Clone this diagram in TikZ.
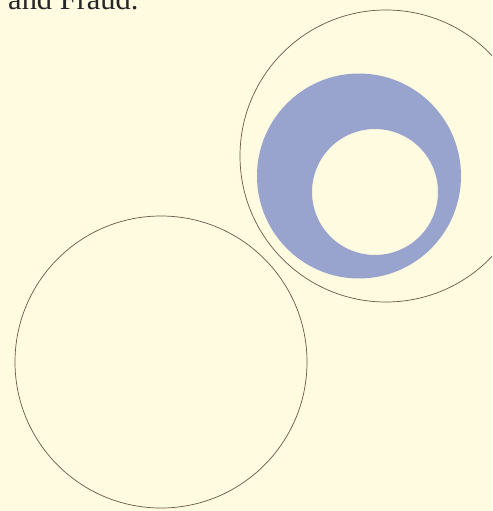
\documentclass[tikz,border=0pt]{standalone}
\usepackage{fontspec}
\setmainfont{Liberation Serif}
\usepackage{tikz}
\definecolor{paper}{RGB}{255,251,224}
\definecolor{inkbrown}{RGB}{105,88,76}
\definecolor{ringblue}{RGB}{153,164,206}

\begin{document}
\begin{tikzpicture}[
  x=0.03cm, y=-0.03cm,
  ring/.style={draw=inkbrown, line width=0.6pt},
  blob/.style={fill=ringblue, even odd rule},
  caption/.style={anchor=base west, inner sep=0pt, font=\fontsize{26}{30}\selectfont, black!85}
]

%% ---------- FRAME ----------
\useasboundingbox (0,0) rectangle (492,511);
\fill[paper] (0,0) rectangle (492,511);
\clip (0,0) rectangle (492,511);

%% ---------- TITLE (cut at the top) ----------
\node[caption] (title) at (8,10) {and Fraud.};

%% ---------- BLUE RING ----------
\fill[blob] (359,176) ellipse [x radius=102, y radius=102.5]
  (375,192) circle (63);

%% ---------- OUTLINE CIRCLES ----------
\draw[ring] (386,156) circle (146);
\draw[ring] (161,362) circle (146);

\end{tikzpicture}
\end{document}
